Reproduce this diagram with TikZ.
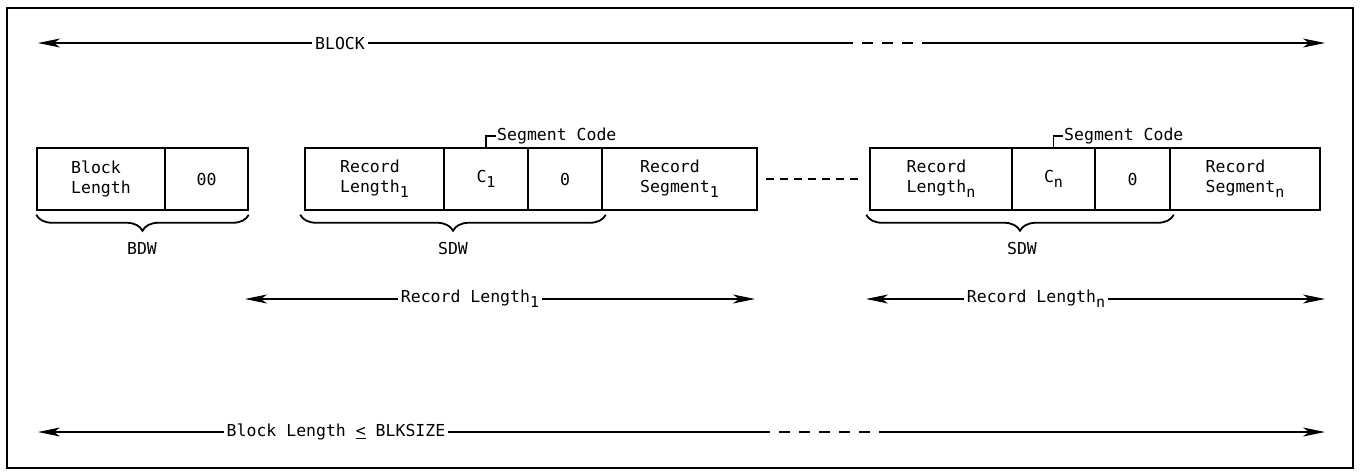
\documentclass[tikz,border=0pt]{standalone}
\usepackage{fontspec}
\newfontfamily\diagfont{DejaVu Sans Mono}
\usetikzlibrary{positioning}
\usetikzlibrary{arrows.meta}
\usetikzlibrary{decorations.pathreplacing}
\newcommand\idx[1]{\raisebox{-0.6ex}{\fontsize{15}{15}\selectfont #1}}

\begin{document}
\begin{tikzpicture}[x=1pt, y=-1pt,
  txt/.style={font=\diagfont\fontsize{16.5}{20}\selectfont, inner sep=3pt},
  cell/.style={txt, draw, line width=1.5pt, minimum height=62pt, align=left, inner sep=0pt},
  dim/.style={line width=1.3pt, -{Stealth[length=22pt,width=9pt,inset=6pt]}},
  gap/.style={line width=1.3pt, dash pattern=on 11pt off 9pt},
  brc/.style={decorate, decoration={brace, mirror, amplitude=16pt}, line width=1.8pt}]
	\useasboundingbox (0,0) rectangle (1360,472);
	\draw[line width=1.5pt] (7,8) rectangle (1353,468);

	% BLOCK
	\node[txt] (block) at (340,43) {BLOCK};
	\coordinate (blockL) at (38,43);
	\coordinate (blockA) at (842,43);
	\coordinate (blockB) at (922,43);
	\coordinate (blockR) at (1325,43);
	\draw[dim] (block.west) -- (blockL);
	\draw[line width=1.3pt] (block.east) -- (blockA);
	\draw[gap] (blockA) -- (blockB);
	\draw[dim] (blockB) -- (blockR);

	% descriptor words and segments
	\node[cell, minimum width=128pt] (blen) at (101,179) {Block\\Length};
	\node[cell, minimum width=83pt] (bzero) at (206.5,179) {00};
	\node[cell, minimum width=139pt] (rlen1) at (374.5,179) {Record\\Length\idx{1}};
	\node[cell, minimum width=84pt] (code1) at (486,179) {C\idx{1}};
	\node[cell, minimum width=74pt] (zero1) at (565,179) {0};
	\node[cell, minimum width=155pt] (rseg1) at (679.5,179) {Record\\Segment\idx{1}};
	\node[cell, minimum width=142pt] (rlenn) at (941,179) {Record\\Length\idx{n}};
	\node[cell, minimum width=83pt] (coden) at (1053.5,179) {C\idx{n}};
	\node[cell, minimum width=75pt] (zeron) at (1132.5,179) {0};
	\node[cell, minimum width=150pt] (rsegn) at (1245,179) {Record\\Segment\idx{n}};
	\coordinate (dotsL) at ([xshift=8pt]rseg1.east);
	\coordinate (dotsR) at ([xshift=-6pt]rlenn.west);
	\draw[line width=1.3pt, dash pattern=on 8pt off 6pt] (dotsL) -- (dotsR);

	% segment codes
	\node[txt, anchor=west, inner sep=1pt] (seg1) at (496,136) {Segment Code};
	\node[txt, anchor=west, inner sep=1pt] (segn) at (1063,136) {Segment Code};
	\draw[line width=1.2pt] (code1.north) |- (seg1.west);
	\draw[line width=1.2pt] (coden.north) |- (segn.west);

	% braces
	\draw[brc] ([yshift=-4pt]blen.south west) -- ([yshift=-4pt]bzero.south east);
	\draw[brc] ([xshift=-4pt,yshift=-4pt]rlen1.south west) -- ([xshift=3pt,yshift=-4pt]zero1.south east);
	\draw[brc] ([xshift=-3pt,yshift=-4pt]rlenn.south west) -- ([xshift=3pt,yshift=-4pt]zeron.south east);
	\node[txt] (bdw) at (142,248) {BDW};
	\node[txt] (sdw1) at (453,248) {SDW};
	\node[txt] (sdwn) at (1022,248) {SDW};

	% record lengths
	\node[txt] (rec1) at (470,299) {Record Length\idx{1}};
	\coordinate (rec1L) at (245,299);
	\coordinate (rec1R) at (755,299);
	\draw[dim] (rec1.west) -- (rec1L);
	\draw[dim] (rec1.east) -- (rec1R);
	\node[txt] (recn) at (1036,299) {Record Length\idx{n}};
	\coordinate (recnL) at (866,299);
	\coordinate (recnR) at (1325,299);
	\draw[dim] (recn.west) -- (recnL);
	\draw[dim] (recn.east) -- (recnR);

	% block length
	\node[txt] (blk) at (336,432) {Block Length \underline{<} BLKSIZE};
	\coordinate (blkL) at (38,432);
	\coordinate (blkA) at (759,432);
	\coordinate (blkB) at (880,432);
	\coordinate (blkR) at (1325,432);
	\draw[dim] (blk.west) -- (blkL);
	\draw[line width=1.3pt] (blk.east) -- (blkA);
	\draw[gap] (blkA) -- (blkB);
	\draw[dim] (blkB) -- (blkR);
\end{tikzpicture}
\end{document}
